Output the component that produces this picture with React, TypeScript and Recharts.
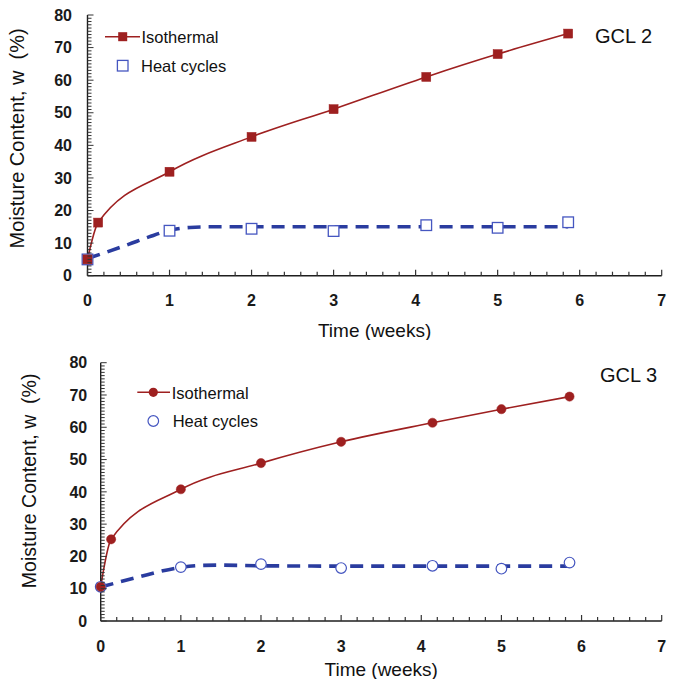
import React from 'react';
import { ComposedChart, Line, XAxis, YAxis, Label } from 'recharts';

const FONT = "'Liberation Sans', Arial, Helvetica, sans-serif";

// ---------- GCL 2 ----------
const gcl2IsoTime = [0, 0.13, 1, 2, 3, 4.13, 5, 5.86];
const gcl2IsoW = [5.0, 16.3, 31.9, 42.6, 51.1, 61.0, 68.0, 74.3];
const gcl2HeatTime = [0, 1, 2, 3, 4.13, 5, 5.86];
const gcl2HeatW = [5.0, 13.8, 14.4, 13.7, 15.5, 14.7, 16.4];
const gcl2FitTime = [0, 0.25, 0.5, 0.75, 1, 1.25, 1.5, 2, 3, 4, 5, 5.86];
const gcl2FitW = [5.3, 7.4, 9.6, 11.9, 13.9, 14.8, 15.0, 15.0, 15.0, 15.0, 15.0, 15.0];

// ---------- GCL 3 ----------
const gcl3IsoTime = [0, 0.13, 1, 2, 3, 4.14, 5, 5.85];
const gcl3IsoW = [10.6, 25.3, 40.8, 48.9, 55.5, 61.4, 65.6, 69.5];
const gcl3HeatTime = [0, 1, 2, 3, 4.14, 5, 5.85];
const gcl3HeatW = [10.6, 16.7, 17.6, 16.4, 17.1, 16.2, 18.1];
const gcl3FitTime = [0, 0.25, 0.5, 0.75, 1, 1.25, 1.5, 2, 3, 4, 5, 5.85];
const gcl3FitW = [10.5, 12.2, 13.8, 15.4, 16.6, 17.2, 17.3, 17.1, 17.0, 17.0, 17.0, 17.0];

// ---------- axes ----------
const xMajorTicks = [0, 1, 2, 3, 4, 5, 6, 7];
const yMajorTicks = [0, 10, 20, 30, 40, 50, 60, 70, 80];
const xMinorPerMajor = 5; // minor tick every 0.2 week
const yMinorPerMajor = 10; // minor tick every 1 %

const seriesNames = ['Isothermal', 'Heat cycles'];
const xTitle = 'Time (weeks)';
const yTitle = 'Moisture Content, w  (%)';

const subdivide = (majors: number[], n: number) => {
  const out: number[] = [];
  for (let i = 0; i < majors.length - 1; i++) {
    const a = majors[i];
    const b = majors[i + 1];
    for (let k = 0; k < n; k++) out.push(a + ((b - a) * k) / n);
  }
  out.push(majors[majors.length - 1]);
  return out;
};
const xAllTicks = subdivide(xMajorTicks, xMinorPerMajor);
const yAllTicks = subdivide(yMajorTicks, yMinorPerMajor);

const zip = (t: number[], w: number[]) => t.map((v, i) => ({ t: v, w: w[i] }));

const isIn = (v: number, list: number[]) => list.some((m) => Math.abs(m - v) < 1e-6);

const RED = '#9E2020';
const BLUE_LINE = '#2A3C9F';
const BLUE_MARK = '#4556C0';
const AXIS = '#1e1e1e';
const TICK = '#333333';
const FRAME = '#8c8c8c';

type Cfg = {
  height: number;
  marginTop: number;
  marginRight: number;
  yAxisWidth: number;
  xAxisHeight: number;
  xLabelDy: number;
  yLabelGap: number;
  yTitleX: number;
  yTitleShift: number;
  yTitleSize: number;
  marker: 'square' | 'circle';
};

const makeXTick = (cfg: Cfg) => (props: any) => {
  const { x, y, payload } = props;
  const v = payload.value;
  const major = isIn(v, xMajorTicks);
  return (
    <g>
      <path d={`M${x},${y}L${x},${y - (major ? 6 : 4)}`} stroke={TICK} strokeWidth={1.2} fill="none" />
      {major && (
        <text x={x} y={y + cfg.xLabelDy} textAnchor="middle" fontSize={16} fontWeight="bold" fill="#1a1a1a" fontFamily={FONT}>
          {Math.round(v)}
        </text>
      )}
    </g>
  );
};

const makeYTick = (cfg: Cfg) => (props: any) => {
  const { x, y, payload } = props;
  const v = payload.value;
  const major = isIn(v, yMajorTicks);
  return (
    <g>
      <path d={`M${x},${y}L${x + (major ? 6 : 4)},${y}`} stroke={TICK} strokeWidth={1} fill="none" />
      {major && (
        <text x={x - cfg.yLabelGap} y={y + 5.7} textAnchor="end" fontSize={16} fontWeight="bold" fill="#1a1a1a" fontFamily={FONT}>
          {Math.round(v)}
        </text>
      )}
    </g>
  );
};

const makeYTitle = (cfg: Cfg) => (props: any) => {
  const vb = props.viewBox || {};
  const x0 = typeof vb.x === 'number' ? vb.x : 0;
  const y0 = typeof vb.y === 'number' ? vb.y : cfg.marginTop;
  const h = typeof vb.height === 'number' ? vb.height : cfg.height - cfg.marginTop - cfg.xAxisHeight;
  const cx = x0 + cfg.yTitleX;
  const cy = y0 + h / 2 + cfg.yTitleShift;
  return (
    <text
      transform={`translate(${cx},${cy}) rotate(-90)`}
      textAnchor="middle"
      fontSize={cfg.yTitleSize}
      fill="#111"
      fontFamily={FONT}
      style={{ whiteSpace: 'pre' }}
    >
      {yTitle}
    </text>
  );
};

const filledSquare = (p: any) =>
  p.cx == null ? <g key={`e${p.index}`} /> : (
    <rect key={`fs${p.index}`} x={p.cx - 4.5} y={p.cy - 4.5} width={9} height={9} fill={RED} stroke={RED} strokeWidth={0.5} />
  );
const hollowSquare = (p: any) =>
  p.cx == null ? <g key={`e${p.index}`} /> : (
    <rect key={`hs${p.index}`} x={p.cx - 5.3} y={p.cy - 5.3} width={10.6} height={10.6} fill="#fff" stroke={BLUE_MARK} strokeWidth={1.3} />
  );
const filledCircle = (p: any) =>
  p.cx == null ? <g key={`e${p.index}`} /> : (
    <circle key={`fc${p.index}`} cx={p.cx} cy={p.cy} r={4.6} fill={RED} stroke={RED} strokeWidth={0.5} />
  );
const hollowCircle = (p: any) =>
  p.cx == null ? <g key={`e${p.index}`} /> : (
    <circle key={`hc${p.index}`} cx={p.cx} cy={p.cy} r={5.3} fill="#fff" stroke={BLUE_MARK} strokeWidth={1.2} />
  );

const Panel = ({
  cfg,
  iso,
  heat,
  fit,
}: {
  cfg: Cfg;
  iso: { t: number; w: number }[];
  heat: { t: number; w: number }[];
  fit: { t: number; w: number }[];
}) => (
  <ComposedChart
    width={683}
    height={cfg.height}
    margin={{ top: cfg.marginTop, right: cfg.marginRight, left: 0, bottom: 0 }}
    style={{ fontFamily: FONT }}
  >
    <XAxis
      xAxisId={0}
      type="number"
      dataKey="t"
      domain={[0, 7]}
      ticks={xAllTicks}
      interval={0}
      tickLine={false}
      tickSize={0}
      tickMargin={0}
      height={cfg.xAxisHeight}
      axisLine={{ stroke: AXIS, strokeWidth: 1.4 }}
      tick={makeXTick(cfg)}
    >
      <Label value={xTitle} position="insideBottom" offset={3.5} fontSize={19} fill="#111" fontFamily={FONT} />
    </XAxis>
    <XAxis
      xAxisId="top"
      orientation="top"
      type="number"
      domain={[0, 7]}
      height={0}
      tick={false}
      tickLine={false}
      axisLine={{ stroke: FRAME, strokeWidth: 1.2 }}
    />
    <YAxis
      yAxisId={0}
      type="number"
      domain={[0, 80]}
      ticks={yAllTicks}
      interval={0}
      tickLine={false}
      tickSize={0}
      tickMargin={0}
      width={cfg.yAxisWidth}
      axisLine={{ stroke: AXIS, strokeWidth: 1.4 }}
      tick={makeYTick(cfg)}
    >
      <Label content={makeYTitle(cfg)} />
    </YAxis>
    <YAxis
      yAxisId="right"
      orientation="right"
      type="number"
      domain={[0, 80]}
      width={0}
      tick={false}
      tickLine={false}
      axisLine={{ stroke: FRAME, strokeWidth: 1.2 }}
    />
    <Line
      data={fit}
      dataKey="w"
      type="monotone"
      stroke={BLUE_LINE}
      strokeWidth={3.6}
      strokeDasharray="13 8"
      dot={false}
      activeDot={false}
      isAnimationActive={false}
    />
    <Line
      data={heat}
      dataKey="w"
      stroke="none"
      dot={cfg.marker === 'square' ? hollowSquare : hollowCircle}
      activeDot={false}
      isAnimationActive={false}
    />
    <Line
      data={iso}
      dataKey="w"
      type="monotone"
      stroke={RED}
      strokeWidth={1.6}
      dot={cfg.marker === 'square' ? filledSquare : filledCircle}
      activeDot={false}
      isAnimationActive={false}
    />
  </ComposedChart>
);

const LegendOverlay = ({
  marker,
  lineX1,
  lineX2,
  markX,
  row1Y,
  row2Y,
  text1X,
  text2X,
  tag,
  tagX,
  tagY,
  height,
}: any) => (
  <svg width={683} height={height} style={{ position: 'absolute', left: 0, top: 0, pointerEvents: 'none' }}>
    <line x1={lineX1} x2={lineX2} y1={row1Y} y2={row1Y} stroke={RED} strokeWidth={1.6} />
    {marker === 'square' ? (
      <rect x={markX - 4.5} y={row1Y - 4.5} width={9} height={9} fill={RED} />
    ) : (
      <circle cx={markX} cy={row1Y} r={4.6} fill={RED} />
    )}
    <text x={text1X} y={row1Y + 6.3} fontSize={16.5} fill="#111" fontFamily={FONT}>
      {seriesNames[0]}
    </text>
    {marker === 'square' ? (
      <rect x={markX - 5.3} y={row2Y - 5.3} width={10.6} height={10.6} fill="#fff" stroke={BLUE_MARK} strokeWidth={1.3} />
    ) : (
      <circle cx={markX} cy={row2Y} r={5.3} fill="#fff" stroke={BLUE_MARK} strokeWidth={1.2} />
    )}
    <text x={text2X} y={row2Y + 6.3} fontSize={16.5} fill="#111" fontFamily={FONT}>
      {seriesNames[1]}
    </text>
    <text x={tagX} y={tagY} textAnchor="end" fontSize={20} fill="#111" fontFamily={FONT}>
      {tag}
    </text>
  </svg>
);

const cfg2: Cfg = {
  height: 340,
  marginTop: 15,
  marginRight: 21.3,
  yAxisWidth: 87.5,
  xAxisHeight: 64.3,
  xLabelDy: 29.8,
  yLabelGap: 15.5,
  yTitleX: 24,
  yTitleShift: -7,
  yTitleSize: 20,
  marker: 'square',
};

const cfg3: Cfg = {
  height: 339,
  marginTop: 22.7,
  marginRight: 21.3,
  yAxisWidth: 100.7,
  xAxisHeight: 58,
  xLabelDy: 30.8,
  yLabelGap: 13.5,
  yTitleX: 36,
  yTitleShift: -11,
  yTitleSize: 19.5,
  marker: 'circle',
};

export default function App() {
  return (
    <div style={{ position: 'absolute', left: 0, top: 0, width: 683, height: 679, background: '#fff', overflow: 'hidden' }}>
      <div style={{ position: 'absolute', left: 0, top: 0, width: 683, height: 340 }}>
        <Panel cfg={cfg2} iso={zip(gcl2IsoTime, gcl2IsoW)} heat={zip(gcl2HeatTime, gcl2HeatW)} fit={zip(gcl2FitTime, gcl2FitW)} />
        <LegendOverlay
          marker="square"
          lineX1={105}
          lineX2={140}
          markX={122.7}
          row1Y={36.7}
          row2Y={65.7}
          text1X={141.5}
          text2X={141}
          tag="GCL 2"
          tagX={652}
          tagY={43.3}
          height={340}
        />
      </div>
      <div style={{ position: 'absolute', left: 0, top: 340, width: 683, height: 339 }}>
        <Panel cfg={cfg3} iso={zip(gcl3IsoTime, gcl3IsoW)} heat={zip(gcl3HeatTime, gcl3HeatW)} fit={zip(gcl3FitTime, gcl3FitW)} />
        <LegendOverlay
          marker="circle"
          lineX1={137.3}
          lineX2={170}
          markX={153.3}
          row1Y={52.3}
          row2Y={81}
          text1X={171.7}
          text2X={172.7}
          tag="GCL 3"
          tagX={657}
          tagY={41.7}
          height={339}
        />
      </div>
    </div>
  );
}
